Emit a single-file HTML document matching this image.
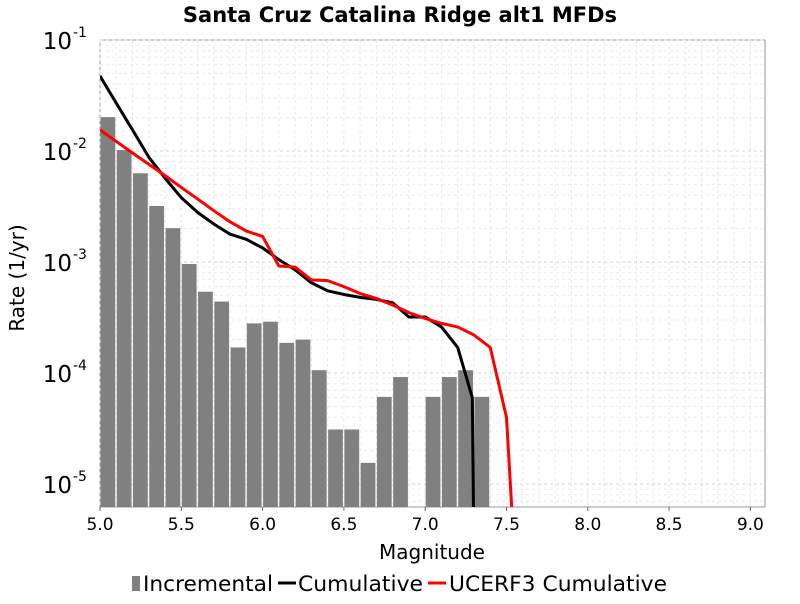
<!DOCTYPE html>
<html><head><meta charset="utf-8"><style>
body{margin:0;background:#fff;font-family:"DejaVu Sans","Liberation Sans",sans-serif;}
</style></head><body>
<svg id="c" width="800" height="600" xmlns="http://www.w3.org/2000/svg">
<text x="400" y="22" text-anchor="middle" font-size="21" font-weight="bold" font-family="DejaVu Sans, sans-serif">Santa Cruz Catalina Ridge alt1 MFDs</text>
<g id="grid"></g><g id="bars"></g><g id="lines"></g><g id="axes"></g>
<text x="432" y="559" text-anchor="middle" font-size="20">Magnitude</text>
<text transform="translate(24,278) rotate(-90)" text-anchor="middle" font-size="20">Rate (1/yr)</text>
<g font-size="21">
<rect x="132" y="576" width="8" height="15" fill="#808080"/>
<text x="143" y="591" textLength="130" lengthAdjust="spacingAndGlyphs">Incremental</text>
<line x1="278" y1="583" x2="296" y2="583" stroke="#000" stroke-width="3"/>
<text x="298" y="591" textLength="125" lengthAdjust="spacingAndGlyphs">Cumulative</text>
<line x1="428" y1="583" x2="446" y2="583" stroke="#f00" stroke-width="3"/>
<text x="449" y="591" textLength="218" lengthAdjust="spacingAndGlyphs">UCERF3 Cumulative</text>
</g>
</svg>
<script>
const barMags=[5.0,5.1,5.2,5.3,5.4,5.5,5.6,5.7,5.8,5.9,6.0,6.1,6.2,6.3,6.4,6.5,6.6,6.7,6.8,7.0,7.1,7.2,7.3];
const barRates=[0.0202,0.0102,0.0063,0.0032,0.00202,0.00096,0.00054,0.00044,0.00017,0.00028,0.00029,0.000187,0.0002,0.000106,3.1e-5,3.1e-5,1.55e-5,6.1e-5,9.2e-5,6.1e-5,9.2e-5,1.06e-4,6.1e-5];
const cumMags=[5.0,5.1,5.2,5.3,5.4,5.5,5.6,5.7,5.8,5.9,6.0,6.1,6.2,6.3,6.4,6.5,6.6,6.7,6.8,6.9,7.0,7.1,7.2,7.29,7.3];
const cumRates=[0.0474,0.027,0.0155,0.0088,0.0057,0.0038,0.0028,0.0022,0.00178,0.0016,0.00134,0.00105,0.00085,0.00065,0.00055,0.00051,0.00048,0.00046,0.00043,0.00032,0.00032,0.00026,0.00017,6e-5,1e-7];
const ucMags=[5.0,5.1,5.2,5.3,5.4,5.5,5.6,5.7,5.8,5.9,6.0,6.1,6.2,6.3,6.4,6.5,6.6,6.7,6.8,6.9,7.0,7.1,7.2,7.3,7.4,7.5,7.55];
const ucRates=[0.0155,0.0122,0.0096,0.0076,0.006,0.0047,0.0037,0.0029,0.0023,0.0019,0.0017,0.00092,0.0009,0.00069,0.00068,0.0006,0.00052,0.00047,0.00041,0.00035,0.00031,0.00028,0.00026,0.00022,0.00017,4e-5,1e-7];
const xTicks=["5.0","5.5","6.0","6.5","7.0","7.5","8.0","8.5","9.0"];
const yTickExps=[-1,-2,-3,-4,-5];
const L=100,R=765,T=40,B=507,xmin=5.0,xmax=9.09,ymaxE=-1,yminE=-5.207;
const X=m=>L+(m-xmin)/(xmax-xmin)*(R-L);
const Y=v=>{let e=Math.log10(v);return T+(ymaxE-e)/(ymaxE-yminE)*(B-T);};
const NS="http://www.w3.org/2000/svg";
function mk(t,a,p){const e=document.createElementNS(NS,t);for(const k in a)e.setAttribute(k,a[k]);p.appendChild(e);return e;}
const grid=document.getElementById('grid'),bars=document.getElementById('bars'),lines=document.getElementById('lines'),axes=document.getElementById('axes');
mk('rect',{x:L,y:T,width:R-L,height:B-T,fill:'#fff',stroke:'#999'},grid);
for(let m=5.0;m<=9.09;m+=0.1){mk('line',{x1:X(m),x2:X(m),y1:T,y2:B,stroke:'#e8e8e8','stroke-dasharray':'3,3'},grid);}
for(let e=-6;e<=-1;e++)for(let k=1;k<10;k++){const v=k*Math.pow(10,e);const y=Y(v);if(y<T||y>B)continue;mk('line',{x1:L,x2:R,y1:y,y2:y,stroke:k==1?'#d4d4d4':'#ececec','stroke-dasharray':'3,3'},grid);}
barMags.forEach((m,i)=>{const y=Y(barRates[i]);const r=mk('rect',{x:X(m)+0.5,y:y,width:X(m+0.1)-X(m)-1.5,height:B-y,fill:'#808080'},bars);

});
function line(ms,rs,col,name){const pts=ms.map((m,i)=>{let y=Y(rs[i]);return X(m)+','+Math.min(y,B+50);}).join(' ');
const p=mk('polyline',{points:pts,fill:'none',stroke:col,'stroke-width':3,'stroke-linejoin':'round'},lines);

}
const cp=mk('clipPath',{id:'cp'},lines);
mk('rect',{x:L,y:T,width:R-L,height:B-T},cp);
lines.setAttribute('clip-path','url(#cp)');
line(cumMags,cumRates,'#000','cumulative-line');
line(ucMags,ucRates,'#f00','ucerf3-cumulative-line');
xTicks.forEach(t=>{const x=X(parseFloat(t));mk('line',{x1:x,x2:x,y1:B,y2:B+4,stroke:'#666'},axes);
const tx=mk('text',{x:x,y:B+23,'text-anchor':'middle','font-size':17},axes);tx.textContent=t;

});
yTickExps.forEach(e=>{const y=Y(Math.pow(10,e));const tx=mk('text',{x:72,y:y+9,'text-anchor':'end','font-size':23},axes);tx.textContent='10';


const s=mk('text',{x:73,y:y-3,'font-size':14},axes);s.textContent=String(e);});
</script>
</body></html>
